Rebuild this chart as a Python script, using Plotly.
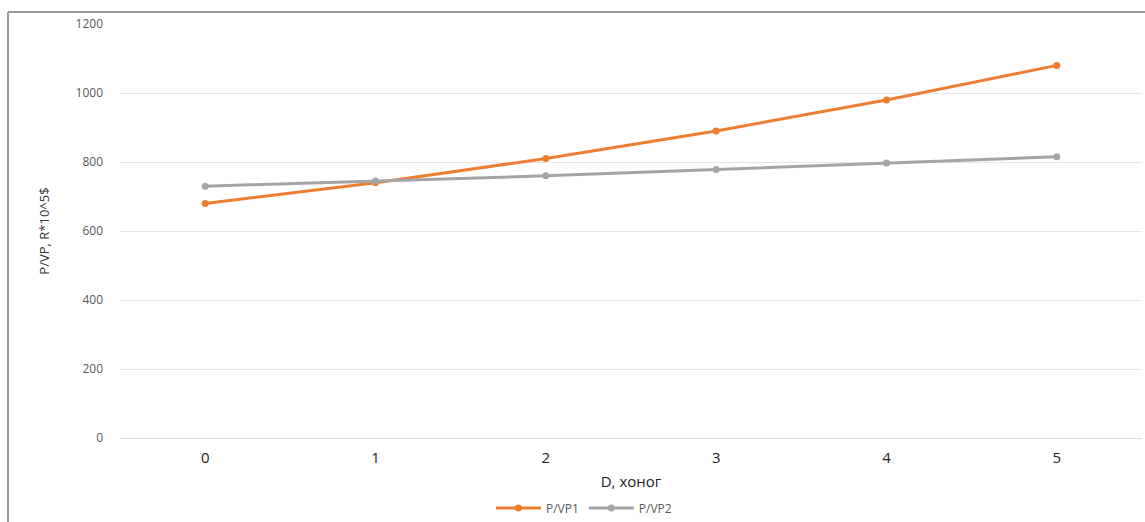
import plotly.graph_objects as go

days = ["0", "1", "2", "3", "4", "5"]
pvp1 = [680, 740, 810, 890, 980, 1080]
pvp2 = [730, 745, 760, 778, 797, 815]
y_ticks = [0, 200, 400, 600, 800, 1000, 1200]

W, H = 1145, 522
L, R, T, B = 120, 3, 24, 84

fig = go.Figure()
fig.add_trace(go.Scatter(x=days, y=pvp1, name="P/VP1", mode="lines+markers",
                         line=dict(color="#ED7D31", width=3), marker=dict(size=7, color="#ED7D31")))
fig.add_trace(go.Scatter(x=days, y=pvp2, name="P/VP2", mode="lines+markers",
                         line=dict(color="#A5A5A5", width=3), marker=dict(size=7, color="#A5A5A5")))

pw = W - L - R
ph = H - T - B
fig.add_shape(type="line", xref="paper", yref="paper",
              x0=(8 - L) / pw, x1=(8 - L) / pw, y0=(H - B - 12) / ph, y1=-2,
              line=dict(color="#9a9a9a", width=2))
fig.add_shape(type="line", xref="paper", yref="paper",
              x0=(8 - L) / pw, x1=1.5, y0=(H - B - 12) / ph, y1=(H - B - 12) / ph,
              line=dict(color="#9a9a9a", width=2))

fig.update_layout(
    width=W, height=H,
    margin=dict(l=L, r=R, t=T, b=B, autoexpand=False),
    plot_bgcolor="white", paper_bgcolor="white",
    font=dict(family="Open Sans, Liberation Sans, sans-serif"),
    showlegend=True,
    legend=dict(orientation="h", x=0.51, xanchor="center", xref="container",
                y=(522 - 508) / 522, yanchor="middle", yref="container",
                font=dict(size=12, color="#595959"), itemwidth=45),
    xaxis=dict(type="category", range=[-0.5, 5.5], showgrid=False, showline=True, linecolor="#d9d9d9",
               tickfont=dict(size=15, color="#222222"), ticks="", ticklabelstandoff=6,
               automargin=False,
               title=dict(text="D, хоног", font=dict(size=15, color="#222222"), standoff=10)),
    yaxis=dict(range=[0, 1200], tickvals=y_ticks, showgrid=True, gridcolor="#e6e6e6",
               zeroline=False, tickfont=dict(size=12, color="#595959"), ticks="",
               ticklabelstandoff=16, automargin=False,
               title=dict(text="P/VP, R*10^5$", font=dict(size=13, color="#333333"), standoff=22)),
)

fig.write_html("out.html")
